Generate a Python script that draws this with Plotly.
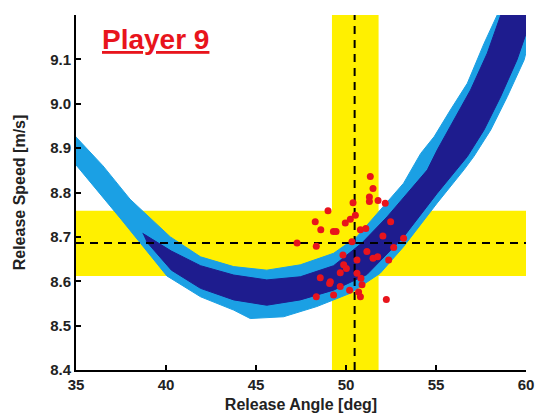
import plotly.graph_objects as go

# ---- data ----
# outer (light blue) band edges
outer_upper_x = [34.8, 35.0, 36.5, 38.0, 40.24, 41.92, 43.76, 45.6, 47.46, 49.31, 50.6, 51.9, 53.2, 54.15, 54.9, 55.8, 56.74, 57.67, 58.4, 58.5]
outer_upper_y = [8.935, 8.925, 8.86, 8.785, 8.70, 8.655, 8.633, 8.625, 8.637, 8.663, 8.70, 8.76, 8.821, 8.888, 8.926, 8.986, 9.046, 9.136, 9.2, 9.3]
outer_lower_x = [34.8, 35.0, 37.5, 40.05, 41.92, 43.76, 44.68, 46.53, 48.38, 50.24, 51.9, 53.2, 55.06, 56.55, 57.1, 58.04, 58.96, 59.9, 60.5, 60.6]
outer_lower_y = [8.872, 8.862, 8.74, 8.612, 8.565, 8.535, 8.516, 8.52, 8.543, 8.573, 8.618, 8.678, 8.776, 8.851, 8.881, 8.941, 9.016, 9.099, 9.2, 9.3]

# inner (dark blue) band edges
inner_upper_x = [38.7, 40.3, 41.92, 43.76, 45.6, 47.46, 49.31, 50.88, 52.28, 54.52, 55.07, 56.0, 56.92, 57.85, 58.6, 58.7]
inner_upper_y = [8.708, 8.668, 8.635, 8.614, 8.603, 8.61, 8.635, 8.686, 8.745, 8.851, 8.896, 8.963, 9.031, 9.114, 9.2, 9.3]
inner_lower_x = [38.9, 40.3, 41.92, 43.76, 45.6, 47.46, 49.31, 51.16, 53.2, 55.06, 56.74, 57.67, 58.59, 59.5, 60.07, 60.4]
inner_lower_y = [8.69, 8.625, 8.584, 8.558, 8.546, 8.558, 8.580, 8.615, 8.70, 8.798, 8.881, 8.941, 9.016, 9.099, 9.166, 9.3]

# player release data (angle deg, speed m/s)
shot_angle = [51.35, 51.5, 51.3, 51.3, 51.78, 52.18, 50.39, 49.0, 50.52, 50.24, 49.96, 48.29, 48.6, 49.3,
              49.45, 52.48, 50.8, 51.1, 52.05, 50.33, 48.35, 53.2, 52.65, 51.16, 49.83, 51.5, 51.76, 52.37,
              50.61, 49.87, 50.02, 49.68, 48.57, 50.61, 49.09, 49.68, 50.83, 50.89, 48.35, 49.31, 50.2,
              50.7, 50.8, 52.24, 47.28, 49.13]
shot_speed = [8.836, 8.809, 8.790, 8.780, 8.782, 8.776, 8.777, 8.759, 8.749, 8.740, 8.731, 8.734, 8.716, 8.712,
              8.712, 8.734, 8.716, 8.719, 8.702, 8.689, 8.679, 8.697, 8.676, 8.667, 8.659, 8.652, 8.655, 8.648,
              8.648, 8.637, 8.629, 8.619, 8.608, 8.618, 8.595, 8.588, 8.607, 8.592, 8.565, 8.569, 8.580,
              8.576, 8.565, 8.559, 8.686, 8.599]

# mean and +/- SD bands
angle_mean, angle_lo, angle_hi = 50.48, 49.22, 51.81
speed_mean, speed_lo, speed_hi = 8.686, 8.612, 8.759

x_ticks = [35, 40, 45, 50, 55, 60]
y_ticks = [8.4, 8.5, 8.6, 8.7, 8.8, 8.9, 9.0, 9.1]
title_text = "Player 9"
x_title = "Release Angle [deg]"
y_title = "Release Speed [m/s]"

YELLOW = "#FFF000"
LIGHT = "#1BA0E4"
DARK = "#1E1C8E"
RED = "#E8141C"
TXT = "#222222"
FONT = "Liberation Sans, Arial, sans-serif"

fig = go.Figure()

fig.add_shape(type="rect", xref="x", yref="paper", x0=angle_lo, x1=angle_hi, y0=0, y1=1,
              fillcolor=YELLOW, line_width=0, layer="below")
fig.add_shape(type="rect", xref="paper", yref="y", x0=0, x1=1, y0=speed_lo, y1=speed_hi,
              fillcolor=YELLOW, line_width=0, layer="below")

fig.add_trace(go.Scatter(x=outer_upper_x + outer_lower_x[::-1], y=outer_upper_y + outer_lower_y[::-1],
                         fill="toself", fillcolor=LIGHT, mode="lines", line=dict(color=LIGHT, width=1),
                         hoverinfo="skip", showlegend=False))
fig.add_trace(go.Scatter(x=inner_upper_x + inner_lower_x[::-1], y=inner_upper_y + inner_lower_y[::-1],
                         fill="toself", fillcolor=DARK, mode="lines", line=dict(color=DARK, width=1),
                         hoverinfo="skip", showlegend=False))

fig.add_trace(go.Scatter(x=[angle_mean, angle_mean], y=[8.4, 9.2], mode="lines",
                         line=dict(color="black", width=2, dash="8px,6px"), showlegend=False))
fig.add_trace(go.Scatter(x=[35, 60], y=[speed_mean, speed_mean], mode="lines",
                         line=dict(color="black", width=2, dash="8px,6px"), showlegend=False))

fig.add_trace(go.Scatter(x=shot_angle, y=shot_speed, mode="markers",
                         marker=dict(color=RED, size=7, line_width=0), showlegend=False))

fig.add_annotation(x=0.054, y=0.932, xref="paper", yref="paper", xanchor="left", yanchor="middle",
                   text="<u><b>" + title_text + "</b></u>", showarrow=False,
                   font=dict(family=FONT, size=28, color=RED))

axis_common = dict(showgrid=False, zeroline=False, showline=True, linecolor="black", linewidth=2,
                   ticks="inside", ticklen=5, tickwidth=2, tickcolor="black", mirror=False,
                   tickfont=dict(family=FONT, size=15, color=TXT))

fig.update_xaxes(range=[35, 60], tickvals=x_ticks, ticktext=["<b>%d</b>" % v for v in x_ticks],
                 title=dict(text="<b>" + x_title + "</b>", font=dict(family=FONT, size=16, color=TXT), standoff=7),
                 **axis_common)
fig.update_yaxes(range=[8.4, 9.2], tickvals=y_ticks, ticktext=["<b>%.1f</b>" % v for v in y_ticks],
                 title=dict(text="<b>" + y_title + "</b>", font=dict(family=FONT, size=16, color=TXT), standoff=21),
                 **axis_common)

fig.update_layout(width=537, height=416, margin=dict(l=76, r=11, t=15, b=46, autoexpand=False),
                  plot_bgcolor="white", paper_bgcolor="white", font=dict(family=FONT))

fig.write_html("out.html")
